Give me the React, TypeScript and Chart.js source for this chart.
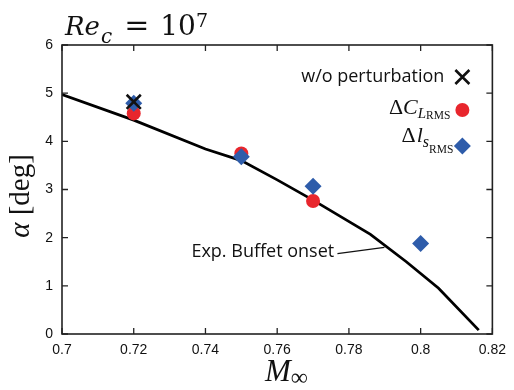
import React, { useEffect, useRef } from "react";
import { Chart, registerables } from "chart.js";

Chart.register(...registerables);

// ---- data ----
const onsetMach = [0.7, 0.72, 0.74, 0.75, 0.76, 0.77, 0.786, 0.796, 0.805, 0.8162];
const onsetAlpha = [4.97, 4.44, 3.84, 3.6, 3.2, 2.78, 2.07, 1.5, 0.95, 0.08];

const noPertMach = [0.72];
const noPertAlpha = [4.82];

const clMach = [0.72, 0.75, 0.77];
const clAlpha = [4.58, 3.75, 2.76];

const lsMach = [0.72, 0.75, 0.77, 0.8];
const lsAlpha = [4.79, 3.68, 3.07, 1.88];

const xTicks = [0.7, 0.72, 0.74, 0.76, 0.78, 0.8, 0.82];
const yTicks = [0, 1, 2, 3, 4, 5, 6];

// annotation anchor (data coords)
const annotText = "Exp. Buffet onset";
const annotTextAt = { x: 0.7759, y: 1.7 };
const annotLineFrom = { x: 0.7768, y: 1.67 };
const annotLineTo = { x: 0.7899, y: 1.8 };

const RED = "#e8262d";
const BLUE = "#2e5caa";
const SERIF = "'Liberation Serif', 'Times New Roman', serif";
const DSERIF = "'DejaVu Serif', serif";
const SANS = "'Open Sans', 'Noto Sans', sans-serif";
const TICKFONT = "'Liberation Sans', Arial, sans-serif";

type Run = { t: string; f: string; dy?: number; gap?: number };

function runsWidth(ctx: CanvasRenderingContext2D, runs: Run[]) {
  let w = 0;
  for (const r of runs) {
    ctx.font = r.f;
    w += ctx.measureText(r.t).width + (r.gap || 0);
  }
  return w;
}

function drawRuns(
  ctx: CanvasRenderingContext2D,
  runs: Run[],
  x: number,
  y: number,
  align: "left" | "right" | "center" = "left"
) {
  const w = runsWidth(ctx, runs);
  let cx = align === "left" ? x : align === "right" ? x - w : x - w / 2;
  ctx.textAlign = "left";
  ctx.textBaseline = "alphabetic";
  for (const r of runs) {
    ctx.font = r.f;
    cx += r.gap || 0;
    ctx.fillText(r.t, cx, y + (r.dy || 0));
    cx += ctx.measureText(r.t).width;
  }
}

const decorPlugin = {
  id: "decor",
  afterDraw(chart: any) {
    const ctx: CanvasRenderingContext2D = chart.ctx;
    const xs = chart.scales.x;
    const ys = chart.scales.y;
    const { left, right, top, bottom } = chart.chartArea;
    ctx.save();
    // frame
    ctx.strokeStyle = "#222";
    ctx.lineWidth = 1.6;
    ctx.strokeRect(left, top, right - left, bottom - top);
    // inward ticks
    ctx.lineWidth = 1.3;
    const tl = 6;
    ctx.beginPath();
    for (const v of xTicks) {
      const px = xs.getPixelForValue(v);
      ctx.moveTo(px, bottom);
      ctx.lineTo(px, bottom - tl);
      ctx.moveTo(px, top);
      ctx.lineTo(px, top + tl);
    }
    for (const v of yTicks) {
      const py = ys.getPixelForValue(v);
      ctx.moveTo(left, py);
      ctx.lineTo(left + tl, py);
      ctx.moveTo(right, py);
      ctx.lineTo(right - tl, py);
    }
    ctx.stroke();

    ctx.fillStyle = "#111";
    // title
    drawRuns(
      ctx,
      [
        { t: "Re", f: `italic 26px ${DSERIF}` },
        { t: "c", f: `italic 20px ${DSERIF}`, dy: 8, gap: 1 },
        { t: "=", f: `30px ${DSERIF}`, gap: 12 },
        { t: "10", f: `28px ${DSERIF}`, gap: 11 },
        { t: "7", f: `19px ${DSERIF}`, dy: -8 },
      ],
      65,
      35
    );

    // y label
    ctx.save();
    ctx.translate(29, 196);
    ctx.rotate(-Math.PI / 2);
    drawRuns(
      ctx,
      [
        { t: "α", f: `italic 29px ${SERIF}` },
        { t: " [deg]", f: `29px ${SERIF}` },
      ],
      0,
      0,
      "center"
    );
    ctx.restore();

    // x label
    drawRuns(
      ctx,
      [
        { t: "M", f: `italic 31px ${SERIF}` },
        { t: "∞", f: `24px ${SERIF}`, dy: 4 },
      ],
      265,
      381
    );

    // annotation
    ctx.font = `18px ${SANS}`;
    ctx.textAlign = "right";
    ctx.textBaseline = "middle";
    ctx.fillText(annotText, xs.getPixelForValue(annotTextAt.x), ys.getPixelForValue(annotTextAt.y));
    ctx.strokeStyle = "#111";
    ctx.lineWidth = 1.2;
    ctx.beginPath();
    ctx.moveTo(xs.getPixelForValue(annotLineFrom.x), ys.getPixelForValue(annotLineFrom.y));
    ctx.lineTo(xs.getPixelForValue(annotLineTo.x), ys.getPixelForValue(annotLineTo.y));
    ctx.stroke();

    // legend
    const mx = right - 30;
    ctx.font = `18px ${SANS}`;
    ctx.textAlign = "right";
    ctx.textBaseline = "middle";
    ctx.fillText("w/o perturbation", mx - 18, top + 32);
    // X marker
    ctx.strokeStyle = "#111";
    ctx.lineWidth = 2.6;
    const cy1 = top + 32;
    const h = 7;
    ctx.beginPath();
    ctx.moveTo(mx - h, cy1 - h);
    ctx.lineTo(mx + h, cy1 + h);
    ctx.moveTo(mx + h, cy1 - h);
    ctx.lineTo(mx - h, cy1 + h);
    ctx.stroke();

    drawRuns(
      ctx,
      [
        { t: "Δ", f: `22px ${SERIF}` },
        { t: "C", f: `italic 22px ${SERIF}` },
        { t: "L", f: `italic 15px ${SERIF}`, dy: 4 },
        { t: "RMS", f: `11.5px ${SERIF}`, dy: 5 },
      ],
      mx - 12,
      top + 69,
      "right"
    );
    ctx.fillStyle = RED;
    ctx.beginPath();
    ctx.arc(mx, top + 65, 7, 0, Math.PI * 2);
    ctx.fill();

    ctx.fillStyle = "#111";
    drawRuns(
      ctx,
      [
        { t: "Δ", f: `22px ${SERIF}` },
        { t: "l", f: `italic 22px ${SERIF}`, gap: 1 },
        { t: "s", f: `italic 16px ${SERIF}`, dy: 5 },
        { t: "RMS", f: `11.5px ${SERIF}`, dy: 11 },
      ],
      mx - 9,
      top + 97,
      "right"
    );
    ctx.fillStyle = BLUE;
    const cy3 = top + 101;
    const d = 8.5;
    ctx.beginPath();
    ctx.moveTo(mx, cy3 - d);
    ctx.lineTo(mx + d, cy3);
    ctx.lineTo(mx, cy3 + d);
    ctx.lineTo(mx - d, cy3);
    ctx.closePath();
    ctx.fill();

    ctx.restore();
  },
};

export default function App() {
  const ref = useRef<HTMLCanvasElement | null>(null);
  useEffect(() => {
    document.body.style.margin = "0";
    const canvas = ref.current!;
    const toPts = (xs: number[], ys: number[]) => xs.map((x, i) => ({ x, y: ys[i] }));
    const chart = new Chart(canvas, {
      type: "scatter",
      data: {
        datasets: [
          {
            type: "line",
            label: "Exp. Buffet onset",
            data: toPts(onsetMach, onsetAlpha),
            borderColor: "#000",
            borderWidth: 2.8,
            pointRadius: 0,
            tension: 0,
            fill: false,
            order: 4,
          } as any,
          {
            label: "ΔC_L RMS",
            data: toPts(clMach, clAlpha),
            backgroundColor: RED,
            borderColor: RED,
            pointStyle: "circle",
            pointRadius: 7,
            borderWidth: 0,
            order: 3,
          },
          {
            label: "Δl_s RMS",
            data: toPts(lsMach, lsAlpha),
            backgroundColor: BLUE,
            borderColor: BLUE,
            pointStyle: "rectRot",
            pointRadius: 8.5,
            borderWidth: 0,
            order: 2,
          },
          {
            label: "w/o perturbation",
            data: toPts(noPertMach, noPertAlpha),
            borderColor: "#111",
            backgroundColor: "#111",
            pointStyle: "crossRot",
            pointRadius: 10,
            borderWidth: 2.6,
            order: 1,
          },
        ],
      },
      options: {
        responsive: false,
        animation: false,
        layout: { padding: { left: 0, right: 17, top: 45, bottom: 0 } },
        plugins: { legend: { display: false }, tooltip: { enabled: false }, title: { display: false } },
        scales: {
          x: {
            type: "linear",
            min: 0.7,
            max: 0.82,
            afterBuildTicks: (s: any) => {
              s.ticks = xTicks.map((v) => ({ value: v }));
            },
            afterFit: (s: any) => {
              s.height = 56;
            },
            grid: { display: false, drawTicks: false },
            border: { display: false },
            ticks: {
              padding: 8,
              color: "#111",
              font: { family: TICKFONT, size: 14 },
              callback: (v: any) => String(Number(Number(v).toFixed(2))),
            },
          },
          y: {
            type: "linear",
            min: 0,
            max: 6,
            afterBuildTicks: (s: any) => {
              s.ticks = yTicks.map((v) => ({ value: v }));
            },
            afterFit: (s: any) => {
              s.width = 62;
            },
            grid: { display: false, drawTicks: false },
            border: { display: false },
            ticks: {
              padding: 9,
              color: "#111",
              font: { family: TICKFONT, size: 14 },
              callback: (v: any) => String(v),
            },
          },
        },
      },
      plugins: [decorPlugin as any],
    });
    return () => chart.destroy();
  }, []);
  return (
    <div style={{ width: 514, height: 390, background: "#fff" }}>
      <canvas ref={ref} width={514} height={390} />
    </div>
  );
}
